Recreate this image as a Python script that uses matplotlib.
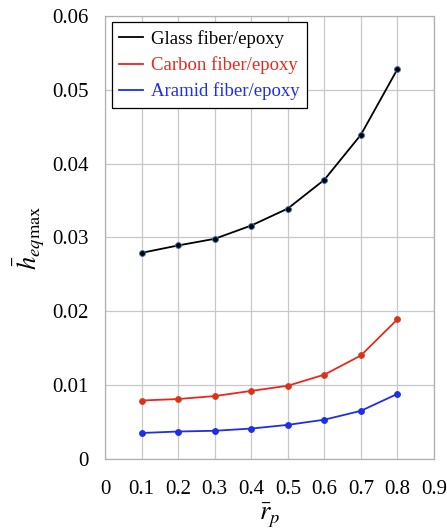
import numpy as np
import matplotlib.pyplot as plt

plt.rcParams['font.family'] = ['Liberation Serif', 'DejaVu Serif']
plt.rcParams['mathtext.fontset'] = 'stix'

# data
r_p = [0.1, 0.2, 0.3, 0.4, 0.5, 0.6, 0.7, 0.8]
glass = [0.0279, 0.0289, 0.0298, 0.0316, 0.0339, 0.0378, 0.0439, 0.0528]
carbon = [0.0079, 0.0081, 0.0085, 0.0092, 0.0099, 0.0114, 0.0140, 0.0189]
aramid = [0.0035, 0.0037, 0.0038, 0.0041, 0.0046, 0.0053, 0.0065, 0.0088]

xticks = [0, 0.1, 0.2, 0.3, 0.4, 0.5, 0.6, 0.7, 0.8, 0.9]
xlabels = ['0', '0.1', '0.2', '0.3', '0.4', '0.5', '0.6', '0.7', '0.8', '0.9']
yticks = [0, 0.01, 0.02, 0.03, 0.04, 0.05, 0.06]
ylabels = ['0', '0.01', '0.02', '0.03', '0.04', '0.05', '0.06']

fig = plt.figure(figsize=(4.47, 5.28), dpi=100)
ax = fig.add_axes([0.235, 0.131, 0.736, 0.839])

ax.plot(r_p, glass, color='black', lw=1.3, marker='o', ms=4.2,
        mfc='black', mec='#3a6fb0', mew=0.7, label='Glass fiber/epoxy')
ax.plot(r_p, carbon, color='#e8281e', lw=1.3, marker='o', ms=4.2,
        mfc='#e8281e', mec='#c0501e', mew=0.7, label='Carbon fiber/epoxy')
ax.plot(r_p, aramid, color='#1f2ee8', lw=1.3, marker='o', ms=4.2,
        mfc='#1f2ee8', mec='#1f2ee8', mew=0.7, label='Aramid fiber/epoxy')

ax.set_xlim(0, 0.9)
ax.set_ylim(0, 0.06)
ax.set_xticks(xticks)
ax.set_xticklabels(xlabels)
ax.set_yticks(yticks)
ax.set_yticklabels(ylabels)
ax.tick_params(length=0, labelsize=15)
ax.tick_params(axis='x', pad=15)
ax.tick_params(axis='y', pad=12)
ax.grid(True, color='#c8c8c8', lw=0.9)
for s in ax.spines.values():
    s.set_color('#b0b0b0')
    s.set_linewidth(0.9)

ax.set_xlabel(r'$\bar{r}_p$', fontsize=19, labelpad=2)
ax.set_ylabel(r'$\bar{h}_{eq\mathrm{max}}$', fontsize=19, labelpad=4)

leg = ax.legend(loc='upper left', fontsize=13.5, handlelength=1.3,
                handletextpad=0.4, borderpad=0.4, labelspacing=0.45,
                borderaxespad=0.35, fancybox=False, framealpha=1)
leg.get_frame().set_edgecolor('black')
leg.get_frame().set_linewidth(0.9)
for h in leg.legend_handles:
    h.set_marker('')
for t, c in zip(leg.get_texts(), ['black', '#e8281e', '#1f2ee8']):
    t.set_color(c)

fig.savefig('out.png', dpi=100)
